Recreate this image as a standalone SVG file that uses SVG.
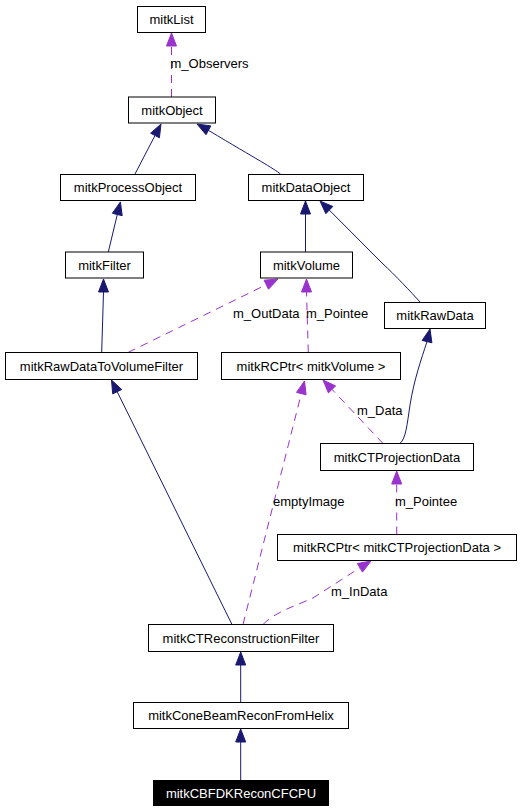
<svg xmlns="http://www.w3.org/2000/svg" width="520" height="811" viewBox="0 0 520 811">
<style>
.n rect{fill:#fff;stroke:#000;stroke-width:1}
.n text{font-family:"Liberation Sans",Arial,sans-serif;font-size:13px;text-anchor:middle;fill:#000}
.dark rect{fill:#000}
.dark text{fill:#fff}
.inh{fill:none;stroke:#191970;stroke-width:1}
.ha{fill:#191970;stroke:#191970}
.use{fill:none;stroke:#9a32cd;stroke-width:1;stroke-dasharray:8,6}
.ua{fill:#9a32cd;stroke:#9a32cd}
.lbl{font-family:"Liberation Sans",Arial,sans-serif;font-size:13px;fill:#000}
</style>
<rect width="520" height="811" fill="#fff"/>
<g id="connectors">
<path class="use" d="M171.5,97 L171.5,46"/>
<polygon class="ua" points="171.5,33 166.5,46 176.5,46"/>
<text class="lbl" x="170.5" y="68">m_Observers</text>
<path class="inh" d="M135,174 L155,135.5"/>
<polygon class="ha" points="161,124 150.6,133.2 159.4,137.8"/>
<path class="inh" d="M280.5,174 C273,168 258,160 208.4,130.3"/>
<polygon class="ha" points="197,124 210.8,125.9 206,134.7"/>
<path class="inh" d="M108.3,252 L117.3,214.5"/>
<polygon class="ha" points="120.4,201.9 112.4,213.3 122.2,215.7"/>
<path class="inh" d="M305.5,252 L305.5,214"/>
<polygon class="ha" points="305.5,201 300.5,214 310.5,214"/>
<path class="inh" d="M420,302 C411,292 396,276 382,263 L329.3,210.1"/>
<polygon class="ha" points="320,201 332.8,206.5 325.8,213.7"/>
<path class="inh" d="M101.7,352.5 L103.5,292"/>
<polygon class="ha" points="103.5,279 98.5,292 108.5,292"/>
<path class="use" d="M128,352.5 L266.3,284.7"/>
<polygon class="ua" points="278,279 264.1,280.2 268.5,289.2"/>
<text class="lbl" x="233" y="318">m_OutData</text>
<path class="use" d="M308.3,352.5 L306.5,292"/>
<polygon class="ua" points="306.5,279 301.5,292 311.5,292"/>
<text class="lbl" x="306" y="318">m_Pointee</text>
<path class="inh" d="M400,443.5 C406,438 407,425 410,405 C414,380 421,360 427,341.6"/>
<polygon class="ha" points="430,329 422.1,340.4 431.9,342.8"/>
<path class="use" d="M383,443.5 L332,389.4"/>
<polygon class="ua" points="323,380 335.6,385.9 328.4,392.9"/>
<text class="lbl" x="357" y="415">m_Data</text>
<path class="inh" d="M232,624.5 L117.2,391.7"/>
<polygon class="ha" points="111.5,380 121.7,389.5 112.7,393.9"/>
<path class="use" d="M243,624.5 L301.3,393.6"/>
<polygon class="ua" points="304.5,381 296.5,392.4 306.1,394.8"/>
<text class="lbl" x="273" y="506">emptyImage</text>
<path class="use" d="M396.7,534.5 L396.7,484"/>
<polygon class="ua" points="396.7,471 391.7,484 401.7,484"/>
<text class="lbl" x="395" y="506">m_Pointee</text>
<path class="use" d="M263,624.5 C275,612 295,606 313,598 L359.9,567.8"/>
<polygon class="ua" points="371,561 357.3,563.5 362.5,572.1"/>
<text class="lbl" x="331" y="596">m_InData</text>
<path class="inh" d="M240.7,702.5 L240.7,665"/>
<polygon class="ha" points="240.7,652 235.7,665 245.7,665"/>
<path class="inh" d="M240.7,780 L240.7,742"/>
<polygon class="ha" points="240.7,729 235.7,742 245.7,742"/>
</g>
<g id="mitkList" class="n"><rect x="137.5" y="6.5" width="68" height="26"/><text x="171.5" y="24">mitkList</text></g>
<g id="mitkObject" class="n"><rect x="128.5" y="97" width="87" height="26"/><text x="172" y="114.5">mitkObject</text></g>
<g id="mitkProcessObject" class="n"><rect x="60.5" y="174.5" width="135" height="26"/><text x="128" y="192">mitkProcessObject</text></g>
<g id="mitkDataObject" class="n"><rect x="248.5" y="174.5" width="115" height="26"/><text x="306" y="192">mitkDataObject</text></g>
<g id="mitkFilter" class="n"><rect x="65.5" y="252" width="78" height="26"/><text x="104.5" y="269.5">mitkFilter</text></g>
<g id="mitkVolume" class="n"><rect x="260.5" y="252" width="92" height="26"/><text x="306.5" y="269.5">mitkVolume</text></g>
<g id="mitkRawData" class="n"><rect x="384.5" y="302.5" width="101" height="26"/><text x="435" y="320">mitkRawData</text></g>
<g id="mitkRawDataToVolumeFilter" class="n"><rect x="5.5" y="352.5" width="192" height="27"/><text x="101.5" y="370.5">mitkRawDataToVolumeFilter</text></g>
<g id="mitkRCPtrVolume" class="n"><rect x="221.5" y="352.5" width="179" height="27"/><text x="311" y="370.5">mitkRCPtr&lt; mitkVolume &gt;</text></g>
<g id="mitkCTProjectionData" class="n"><rect x="320.5" y="443.5" width="153" height="27"/><text x="397" y="461.5">mitkCTProjectionData</text></g>
<g id="mitkRCPtrCTProjectionData" class="n"><rect x="277.5" y="534.5" width="239" height="26"/><text x="397" y="552">mitkRCPtr&lt; mitkCTProjectionData &gt;</text></g>
<g id="mitkCTReconstructionFilter" class="n"><rect x="148.5" y="624.5" width="185" height="27"/><text x="241" y="642.5">mitkCTReconstructionFilter</text></g>
<g id="mitkConeBeamReconFromHelix" class="n"><rect x="133.5" y="702.5" width="215" height="26"/><text x="241" y="720">mitkConeBeamReconFromHelix</text></g>
<g id="mitkCBFDKReconCFCPU" class="n dark"><rect x="153.5" y="780.5" width="175" height="25"/><text x="241" y="797.5">mitkCBFDKReconCFCPU</text></g>
</svg>
